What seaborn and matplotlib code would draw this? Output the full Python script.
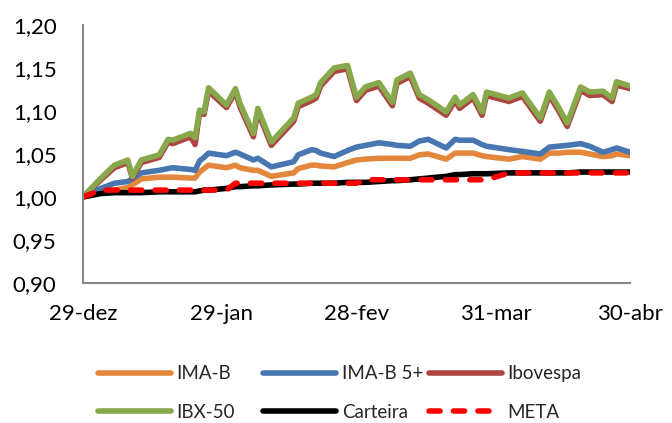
import matplotlib
matplotlib.use("Agg")
import matplotlib.pyplot as plt
import pandas as pd
import seaborn as sns

# days after 29-dez
days = [0, 4, 7, 10, 11, 13, 17, 19, 20, 24, 25, 26, 27, 28, 32, 34, 35, 38, 39, 42,
        47, 48, 51, 52, 53, 56, 59, 61, 63, 66, 69, 70, 73, 75, 77, 81, 83, 84, 87, 89,
        90, 95, 98, 102, 104, 106, 108, 111, 113, 116, 118, 119, 122]

ibx50 = [1.000, 1.022, 1.037, 1.043, 1.024, 1.043, 1.049, 1.067, 1.066, 1.074, 1.069, 1.101,
         1.099, 1.127, 1.107, 1.126, 1.109, 1.074, 1.103, 1.064, 1.092, 1.109, 1.116, 1.119,
         1.133, 1.150, 1.153, 1.116, 1.128, 1.133, 1.110, 1.136, 1.144, 1.119, 1.113, 1.099,
         1.116, 1.107, 1.119, 1.099, 1.122, 1.115, 1.121, 1.092, 1.122, 1.105, 1.086, 1.128,
         1.122, 1.123, 1.115, 1.134, 1.129]
ibovespa = [1.000, 1.020, 1.034, 1.040, 1.022, 1.040, 1.046, 1.064, 1.062, 1.070, 1.061, 1.098,
            1.096, 1.123, 1.104, 1.122, 1.105, 1.070, 1.099, 1.060, 1.088, 1.105, 1.112, 1.115,
            1.129, 1.146, 1.149, 1.112, 1.124, 1.129, 1.106, 1.132, 1.140, 1.115, 1.109, 1.095,
            1.112, 1.103, 1.115, 1.095, 1.118, 1.111, 1.117, 1.088, 1.118, 1.101, 1.082, 1.124,
            1.118, 1.119, 1.111, 1.130, 1.126]
ima_b5 = [1.000, 1.010, 1.016, 1.018, 1.021, 1.028, 1.031, 1.033, 1.034, 1.032, 1.031, 1.042,
          1.046, 1.051, 1.048, 1.052, 1.050, 1.043, 1.045, 1.035, 1.041, 1.049, 1.055, 1.054,
          1.051, 1.047, 1.054, 1.058, 1.060, 1.063, 1.061, 1.060, 1.059, 1.065, 1.067, 1.057,
          1.067, 1.066, 1.066, 1.061, 1.059, 1.055, 1.053, 1.050, 1.058, 1.059, 1.060, 1.062,
          1.059, 1.052, 1.055, 1.057, 1.052]
ima_b = [1.000, 1.005, 1.008, 1.011, 1.014, 1.021, 1.023, 1.023, 1.023, 1.022, 1.022, 1.029,
         1.033, 1.037, 1.034, 1.037, 1.034, 1.031, 1.031, 1.024, 1.028, 1.033, 1.037, 1.037,
         1.036, 1.035, 1.040, 1.043, 1.044, 1.045, 1.045, 1.045, 1.045, 1.049, 1.050, 1.044,
         1.051, 1.051, 1.051, 1.048, 1.047, 1.044, 1.047, 1.044, 1.051, 1.051, 1.052, 1.052,
         1.050, 1.047, 1.048, 1.050, 1.048]
carteira = [1.000, 1.004, 1.005, 1.005, 1.005, 1.005, 1.006, 1.006, 1.006, 1.006, 1.006, 1.007,
            1.008, 1.008, 1.010, 1.012, 1.012, 1.013, 1.013, 1.014, 1.015, 1.015, 1.016, 1.016,
            1.016, 1.016, 1.017, 1.017, 1.017, 1.018, 1.019, 1.019, 1.020, 1.021, 1.022, 1.024,
            1.026, 1.026, 1.027, 1.027, 1.027, 1.028, 1.028, 1.028, 1.028, 1.028, 1.028, 1.029,
            1.029, 1.029, 1.029, 1.029, 1.029]
meta = [1.000, 1.008, 1.008, 1.008, 1.008, 1.008, 1.008, 1.008, 1.008, 1.008, 1.008, 1.008,
        1.008, 1.008, 1.008, 1.016, 1.016, 1.016, 1.016, 1.016, 1.016, 1.016, 1.016, 1.016,
        1.016, 1.016, 1.016, 1.016, 1.020, 1.020, 1.020, 1.020, 1.020, 1.020, 1.020, 1.020,
        1.020, 1.020, 1.020, 1.020, 1.020, 1.028, 1.028, 1.028, 1.028, 1.028, 1.028, 1.028,
        1.028, 1.028, 1.028, 1.028, 1.028]

tick_days = [0, 31, 61, 92, 122]
tick_labels = ["29-dez", "29-jan", "28-fev", "31-mar", "30-abr"]

start = pd.Timestamp("2014-12-29")
dates = start + pd.to_timedelta(days, unit="D")
tick_dates = start + pd.to_timedelta(tick_days, unit="D")

sns.set_style("white")
plt.rcParams["font.family"] = ["Lato", "DejaVu Sans"]

fig = plt.figure(figsize=(6.72, 4.23), dpi=100)
ax = fig.add_axes([0.1235, 0.331, 0.814, 0.610])

# drawing order matters: green sits on top of the red Ibovespa line
series = [
    ("IMA-B", ima_b, "#E3873D", "-"),
    ("IMA-B 5+", ima_b5, "#4776B0", "-"),
    ("Ibovespa", ibovespa, "#AD4642", "-"),
    ("IBX-50", ibx50, "#87A94B", "-"),
    ("Carteira", carteira, "#000000", "-"),
    ("META", meta, "#FF0000", (0, (2.0, 2.4))),
]
handles = {}
for name, vals, col, ls in series:
    sns.lineplot(x=dates, y=vals, ax=ax, color=col, lw=4, linestyle=ls,
                 solid_capstyle="round", dash_capstyle="round", solid_joinstyle="round")
    handles[name] = ax.get_lines()[-1]

ax.set_xlim(tick_dates[0], tick_dates[-1])
ax.set_ylim(0.90, 1.20)
ax.set_xticks(tick_dates)
ax.set_xticklabels(tick_labels)
yt = [0.90, 0.95, 1.00, 1.05, 1.10, 1.15, 1.20]
ax.set_yticks(yt)
ax.set_yticklabels([f"{v:.2f}".replace(".", ",") for v in yt])
ax.set_xlabel("")
ax.set_ylabel("")

for s in ["top", "right"]:
    ax.spines[s].set_visible(False)
for s in ["left", "bottom"]:
    ax.spines[s].set_color("#868686")
    ax.spines[s].set_linewidth(1.5)
ax.tick_params(axis="both", which="major", direction="out", length=5, width=1.3,
               color="#868686", labelsize=16, labelcolor="black")
ax.tick_params(axis="y", pad=14)
ax.tick_params(axis="x", pad=10)

# Excel legend: three equal-width columns, two rows
columns = [["IMA-B", "IBX-50"], ["IMA-B 5+", "Carteira"], ["Ibovespa", "META"]]
col_x = [98, 263, 429]
for names, x in zip(columns, col_x):
    leg = fig.legend([handles[n] for n in names], names, loc="center left",
                     bbox_to_anchor=(x / 672, 1 - 393 / 423), frameon=False, fontsize=13.5,
                     handlelength=3.9, handletextpad=0.3, labelspacing=1.15,
                     borderpad=0, borderaxespad=0)

fig.savefig("out.png", dpi=100)
